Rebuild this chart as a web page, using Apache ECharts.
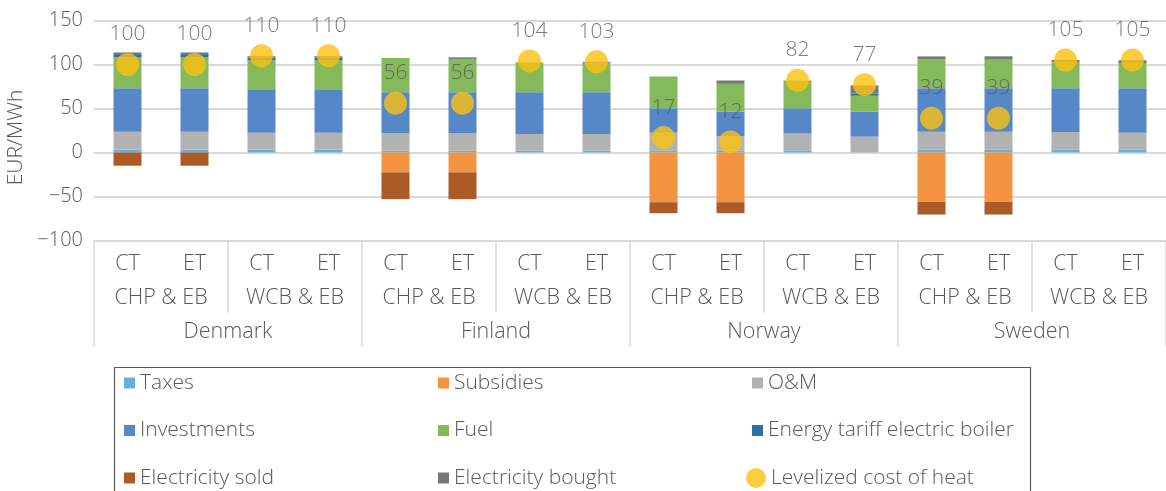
<!DOCTYPE html>
<html>
<head>
<meta charset="utf-8">
<script src="https://cdn.jsdelivr.net/npm/echarts@6/dist/echarts.min.js"></script>
<style>html,body{margin:0;padding:0;background:#fff;}#c{width:1166px;height:491px;}</style>
</head>
<body>
<div id="c"></div>
<script>
// Tick / category labels
var countries = ['Denmark', 'Finland', 'Norway', 'Sweden'];
var plants = ['CHP & EB', 'WCB & EB'];
var tariffs = ['CT', 'ET'];

// Series values (EUR/MWh), order: DK CHP CT, DK CHP ET, DK WCB CT, DK WCB ET, FI..., NO..., SE...
var taxes       = [3.5, 3.5, 3.5, 3.5,   2, 2, 2, 2,            2.5, 2.5, 2.5, 0,      3, 3, 3, 3];
var subsidies   = [0, 0, 0, 0,           -22.5, -22.5, 0, 0,    -56.5, -56.5, 0, 0,    -56, -56, 0, 0];
var om          = [20, 20, 19, 19,       19.5, 19.5, 19, 19,    20, 16, 19, 18,        20.6, 20.6, 20.3, 19.5];
var investments = [49.5, 49.5, 49.5, 49.5, 47, 47, 47.5, 47.5, 27.7, 28, 28.7, 28.5,  49.4, 49.4, 49.7, 50.5];
var fuel        = [35, 35, 32.5, 32.5,   39, 37.8, 34, 33.5,    36.2, 31.5, 31.6, 18,  32.8, 32.6, 29.7, 27.9];
var tariffEB    = [3.8, 3.8, 3.4, 3.4,   0, 0, 0, 0,            0, 0, 0, 2.3,          0, 0.5, 1, 0.5];
var elSold      = [-15, -15, 0, 0,       -30.5, -30.5, 0, 0,    -12.5, -12.5, 0, 0,    -14.5, -14.5, 0, 0];
var elBought    = [1.9, 1.9, 1.5, 1.5,   0, 1.8, 0, 1,          0, 3.8, 0, 9.5,        3.4, 3.2, 1.5, 3.5];
var lcoh        = [100, 100, 110, 110,   56, 56, 104, 103,      17, 12, 82, 77,        39, 39, 105, 105];

var SEP = '|';
var cat16 = [], cat8 = [];
countries.forEach(function (c) {
  plants.forEach(function (p) {
    cat8.push(c + SEP + p);
    tariffs.forEach(function (t) { cat16.push(c + SEP + p + SEP + t); });
  });
});
function lastPart(v) { var a = String(v).split(SEP); return a[a.length - 1]; }

var FONT = '"Open Sans", Roboto, sans-serif';
var FW = 300;
var TXT = '#595959';
var GRIDC = '#d9d9d9';
var AXF = 21.5;

var colors = {
  'Taxes': '#6AAEE0',
  'Subsidies': '#F29441',
  'O&M': '#B2B2B2',
  'Investments': '#5687C6',
  'Fuel': '#84BA5B',
  'Energy tariff electric boiler': '#2A72A6',
  'Electricity sold': '#AD5B26',
  'Electricity bought': '#787878',
  'Levelized cost of heat': '#FDC010'
};

function bar(name, data) {
  return {
    name: name, type: 'bar', stack: 'total', data: data,
    barWidth: 28, xAxisIndex: 0,
    itemStyle: { color: colors[name] },
    emphasis: { disabled: true }
  };
}

var legendText = { fontSize: 21, color: TXT, fontFamily: FONT, fontWeight: FW, lineHeight: 22 };
function legendCol(left, top, data, size, icon) {
  return {
    orient: 'vertical', left: left, top: top, data: data,
    itemWidth: size, itemHeight: size, itemGap: 25.5, icon: icon,
    textStyle: legendText, selectedMode: false, padding: 0
  };
}

var chart = echarts.init(document.getElementById('c'), null, { renderer: 'canvas' });
chart.setOption({
  animation: false,
  backgroundColor: '#fff',
  grid: { left: 94, right: 0, top: 20.5, bottom: 250.5, containLabel: false, outerBoundsMode: 'none' },
  yAxis: {
    type: 'value', min: -100, max: 150, interval: 50,
    name: 'EUR/MWh', nameLocation: 'middle', nameGap: 66, nameRotate: 90,
    nameTextStyle: { fontSize: 21, color: TXT, fontFamily: FONT, fontWeight: FW, padding: [0, 14, 0, 0] },
    axisLine: { show: false }, axisTick: { show: false },
    axisLabel: {
      fontSize: 20, color: TXT, fontFamily: FONT, fontWeight: FW, margin: 11,
      formatter: function (v) { return v < 0 ? '\u2212' + Math.abs(v) : String(v); }
    },
    splitLine: { lineStyle: { color: GRIDC, width: 2 } }
  },
  xAxis: [
    {
      type: 'category', data: cat16, position: 'bottom',
      axisLine: { show: false, onZero: false }, axisTick: { show: false },
      axisLabel: { interval: 0, margin: 12, fontSize: AXF, color: TXT, fontFamily: FONT, fontWeight: FW, formatter: lastPart }
    },
    {
      type: 'category', data: cat8, position: 'bottom',
      axisLine: { show: false, onZero: false },
      axisTick: { show: true, interval: 0, length: 72, lineStyle: { color: GRIDC, width: 1.5 } },
      axisLabel: { interval: 0, margin: 46, fontSize: AXF, color: TXT, fontFamily: FONT, fontWeight: FW, formatter: lastPart }
    },
    {
      type: 'category', data: countries, position: 'bottom',
      axisLine: { show: false, onZero: false },
      axisTick: { show: true, interval: 0, length: 106, lineStyle: { color: GRIDC, width: 1.5 } },
      axisLabel: { interval: 0, margin: 80, fontSize: AXF, color: TXT, fontFamily: FONT, fontWeight: FW }
    }
  ],
  legend: [
    legendCol(124, 372, ['Taxes', 'Investments', 'Electricity sold'], 11, 'rect'),
    legendCol(438, 372, ['Subsidies', 'Fuel', 'Electricity bought'], 11, 'rect'),
    legendCol(752, 372, ['O&M', 'Energy tariff electric boiler'], 11, 'rect'),
    legendCol(746, 467, ['Levelized cost of heat'], 20, 'circle')
  ],
  graphic: [{
    type: 'rect', left: 112, top: 365, silent: true,
    shape: { width: 916, height: 140 },
    style: { fill: 'none', stroke: '#595959', lineWidth: 1.2 }
  }],
  series: [
    bar('Taxes', taxes),
    bar('Subsidies', subsidies),
    bar('O&M', om),
    bar('Investments', investments),
    bar('Fuel', fuel),
    bar('Energy tariff electric boiler', tariffEB),
    bar('Electricity sold', elSold),
    bar('Electricity bought', elBought),
    {
      name: 'Levelized cost of heat', type: 'scatter', xAxisIndex: 0, data: lcoh,
      symbol: 'circle', symbolSize: 23, z: 5,
      itemStyle: { color: colors['Levelized cost of heat'] },
      label: { show: true, position: 'top', distance: 8, fontSize: 21, color: TXT, fontFamily: FONT, fontWeight: FW },
      emphasis: { disabled: true }
    }
  ]
});
</script>
</body>
</html>
